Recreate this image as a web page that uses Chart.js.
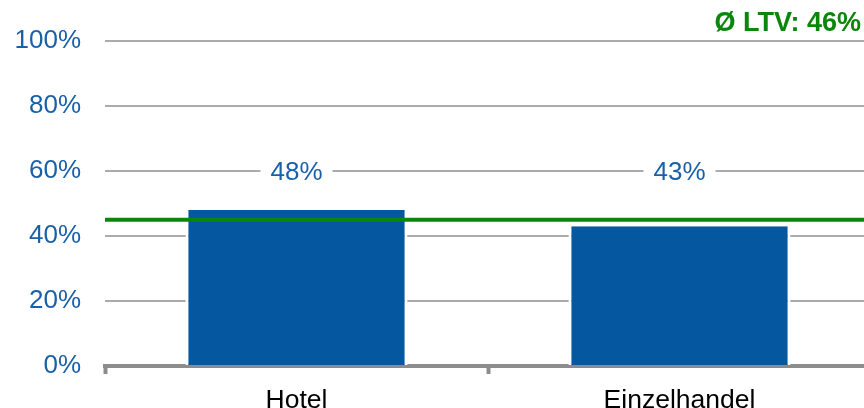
<!DOCTYPE html>
<html>
<head>
<meta charset="utf-8">
<script src="https://cdn.jsdelivr.net/npm/chart.js@4/dist/chart.umd.min.js"></script>
<style>
  html, body { margin: 0; padding: 0; background: #fff; overflow: hidden; }
  #wrap { width: 871px; height: 408px; position: relative; }
</style>
</head>
<body>
<div id="wrap"><canvas id="ltv"></canvas></div>
<script>
/* LTV per asset class: bars + average line */

const categories = ['Hotel', 'Einzelhandel'];
const ltvValues = [48, 43];
const ltvLabels = ['48%', '43%'];
const avgLtv = 45;
const avgText = 'Ø LTV: 46%';
const yTicks = [0, 20, 40, 60, 80, 100];

const BLUE = '#0558a0';
const TEXT_BLUE = '#1a60a8';
const GREEN = '#0a860a';
const GRID = '#ababab';
const AXIS = '#8c8c8c';
const FONT = 'Arial, "Liberation Sans", sans-serif';

// average line, value labels (on white patches) and the top-right caption
const overlay = {
  id: 'overlay',
  afterDatasetsDraw(chart) {
    const { ctx, chartArea, scales } = chart;
    const y = scales.y;

    const yAvg = y.getPixelForValue(avgLtv);
    ctx.save();
    ctx.strokeStyle = GREEN;
    ctx.lineWidth = 4;
    ctx.beginPath();
    ctx.moveTo(chartArea.left, yAvg);
    ctx.lineTo(chartArea.right, yAvg);
    ctx.stroke();

    ctx.font = '26px ' + FONT;
    ctx.textAlign = 'center';
    ctx.textBaseline = 'middle';
    const yLab = y.getPixelForValue(60);
    chart.getDatasetMeta(0).data.forEach((bar, i) => {
      const w = ctx.measureText(ltvLabels[i]).width + 20;
      ctx.fillStyle = '#fff';
      ctx.fillRect(bar.x - w / 2, yLab - 12, w, 24);
      ctx.fillStyle = TEXT_BLUE;
      ctx.fillText(ltvLabels[i], bar.x, yLab + 2);
    });

    ctx.font = 'bold 27px ' + FONT;
    ctx.textAlign = 'right';
    ctx.fillStyle = GREEN;
    ctx.fillText(avgText, 861, 24);
    ctx.restore();
  }
};

new Chart(document.getElementById('ltv'), {
  type: 'bar',
  data: {
    labels: categories,
    datasets: [{
      data: ltvValues,
      backgroundColor: BLUE,
      borderColor: '#fff',
      borderWidth: { left: 3, right: 3, top: 0, bottom: 0 },
      borderSkipped: false,
      barPercentage: 1,
      categoryPercentage: 0.58,
    }],
  },
  options: {
    responsive: true,
    maintainAspectRatio: false,
    animation: false,
    layout: { padding: { top: 41, right: 0, left: 0, bottom: 0 } },
    plugins: { legend: { display: false }, tooltip: { enabled: false } },
    scales: {
      x: {
        afterFit: (s) => { s.height = 42; },
        border: { color: AXIS, width: 4 },
        grid: { offset: true, drawOnChartArea: false, drawTicks: true, tickLength: 8, tickColor: AXIS, tickWidth: 4 },
        ticks: { color: '#000', font: { family: FONT, size: 26.5 }, padding: 11 },
      },
      y: {
        min: 0,
        max: 100,
        afterFit: (s) => { s.width = 105; },
        afterBuildTicks: (s) => { s.ticks = yTicks.map((v) => ({ value: v })); },
        border: { display: false },
        grid: { color: GRID, lineWidth: 2, drawTicks: false },
        ticks: {
          color: TEXT_BLUE,
          font: { family: FONT, size: 26 },
          padding: 24,
          callback: (v) => v + '%',
        },
      },
    },
  },
  plugins: [overlay],
});
</script>
</body>
</html>
